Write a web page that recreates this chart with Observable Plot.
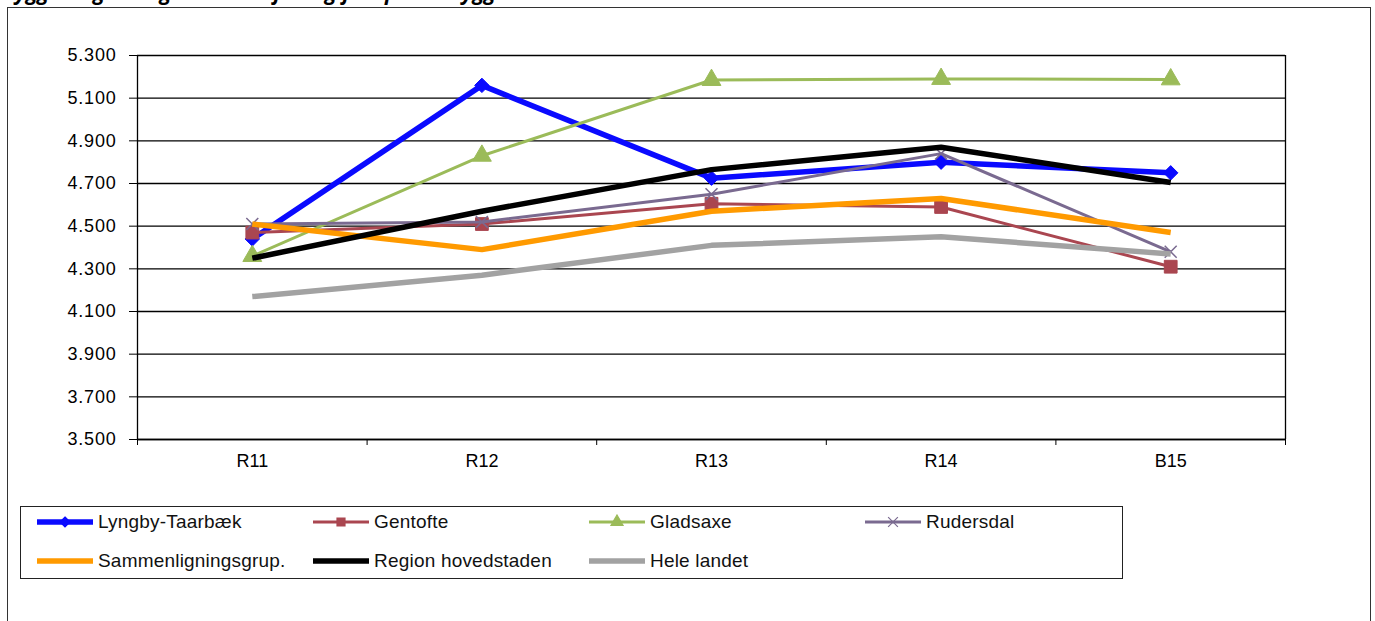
<!DOCTYPE html>
<html>
<head>
<meta charset="utf-8">
<script src="https://cdn.jsdelivr.net/npm/d3@7"></script>
<script src="https://cdn.jsdelivr.net/npm/@observablehq/plot@0.6"></script>
<style>
  body { margin: 0; background: #fff; }
  #wrap { position: relative; width: 1375px; height: 621px; overflow: hidden; background: #fff; }
  #title { position: absolute; left: 2px; top: -22px; font: italic bold 21px "Open Sans", "DejaVu Sans", sans-serif; color: #000; white-space: nowrap; }
  #frame { position: absolute; left: 7px; top: 7px; width: 1364px; height: 700px; border: 1.5px solid #333; box-sizing: border-box; }
  #chart { position: absolute; left: 0; top: 0; }
  #legend { position: absolute; left: 20px; top: 506px; width: 1103px; height: 73px; border: 1.5px solid #222; box-sizing: border-box; background: #fff; }
  .item { position: absolute; display: flex; align-items: center; height: 24px; font: 19px "Liberation Sans", Arial, sans-serif; color: #111; letter-spacing: 0.2px; }
  .item svg { display: block; margin-right: 4px; }
</style>
</head>
<body>
<div id="wrap">
  <div id="title">Byggeri og anlæg – nettodriftsudgifter pr. indbygger</div>
  <div id="frame"></div>
  <div id="chart"></div>
  <div id="legend"></div>
</div>
<script>
// ---- data ----
const categories = ["R11", "R12", "R13", "R14", "B15"];
const yTicks = [3500, 3700, 3900, 4100, 4300, 4500, 4700, 4900, 5100, 5300];

const lyngbyTaarbaek      = [4440, 5160, 4725, 4800, 4750];
const gentofte            = [4470, 4510, 4605, 4590, 4310];
const gladsaxe            = [4360, 4830, 5185, 5190, 5188];
const rudersdal           = [4510, 4520, 4650, 4840, 4380];
const sammenligningsgrup  = [4510, 4390, 4570, 4630, 4470];
const regionHovedstaden   = [4350, 4570, 4765, 4870, 4705];
const heleLandet          = [4170, 4270, 4410, 4450, 4370];

const seriesNames = ["Lyngby-Taarbæk", "Gentofte", "Gladsaxe", "Rudersdal", "Sammenligningsgrup.", "Region hovedstaden", "Hele landet"];
const seriesValues = [lyngbyTaarbaek, gentofte, gladsaxe, rudersdal, sammenligningsgrup, regionHovedstaden, heleLandet];

// ---- styles ----
const styles = [
  {color: "#0a0aff", width: 5.5, symbol: "diamond2", r: 6.5, fill: true},
  {color: "#aa4650", width: 3,   symbol: "square",   r: 7.2, fill: true},
  {color: "#9bbb59", width: 3,   symbol: "triangle", r: 7,   fill: true},
  {color: "#7a6a90", width: 3,   symbol: "times",    r: 5.5, fill: false},
  {color: "#ff9a00", width: 5.5, symbol: null},
  {color: "#000000", width: 5.5, symbol: null},
  {color: "#a2a2a2", width: 5.5, symbol: null}
];

const table = seriesNames.map((name, s) => seriesValues[s].map((v, i) => ({name, i, v})));

const fmt = d => d3.format(",")(d).replace(",", ".");
const bounds = d3.range(-0.5, categories.length, 1);

const marks = [
  Plot.gridY(yTicks, {stroke: "#000", strokeOpacity: 1, strokeWidth: 1.3}),
  Plot.ruleX([-0.5], {stroke: "#000", strokeWidth: 1.3}),
  Plot.ruleX([categories.length - 0.5], {stroke: "#000", strokeWidth: 1.3}),
  Plot.ruleY([yTicks[0]], {stroke: "#000", strokeWidth: 1.5}),
  Plot.axisY(yTicks, {tickSize: 8, tickPadding: 13, tickFormat: fmt, label: null, stroke: "#000"}),
  Plot.axisX(bounds, {tickSize: 6, tickFormat: () => "", label: null, stroke: "#000"}),
  Plot.axisX(d3.range(categories.length), {tickSize: 0, tickPadding: 15, tickFormat: i => categories[i], label: null})
];

table.forEach((data, s) => {
  const st = styles[s];
  marks.push(Plot.line(data, {x: "i", y: "v", stroke: st.color, strokeWidth: st.width, strokeLinejoin: "miter", strokeLinecap: "butt"}));
  if (st.symbol) {
    marks.push(Plot.dot(data, st.fill
      ? {x: "i", y: "v", symbol: () => st.symbol, r: st.r, fill: st.color, stroke: st.color, strokeWidth: 1}
      : {x: "i", y: "v", symbol: () => st.symbol, r: st.r, stroke: st.color, strokeWidth: 1.5}));
  }
});

const chart = Plot.plot({
  width: 1375,
  height: 480,
  marginLeft: 137,
  marginRight: 90,
  marginTop: 55,
  marginBottom: 41,
  x: {type: "linear", domain: [-0.5, categories.length - 0.5]},
  y: {domain: [yTicks[0], yTicks[yTicks.length - 1]]},
  style: {fontFamily: "'Liberation Sans', Arial, sans-serif", fontSize: "18px", color: "#000", background: "transparent", overflow: "visible"},
  marks
});
d3.select(chart).selectAll("g[aria-label='y-axis tick label'] text").style("letter-spacing", "0.8px");
document.getElementById("chart").appendChild(chart);

// ---- legend ----
const legend = d3.select("#legend");
seriesNames.forEach((name, s) => {
  const st = styles[s];
  const col = s % 4, row = Math.floor(s / 4);
  const item = legend.append("div").attr("class", "item")
    .style("left", (15 + col * 276) + "px")
    .style("top", (3 + row * 39) + "px");
  const svg = item.append("svg").attr("width", 58).attr("height", 16);
  svg.append("line").attr("x1", 1).attr("x2", 57).attr("y1", 8).attr("y2", 8)
    .attr("stroke", st.color).attr("stroke-width", st.width);
  if (st.symbol) {
    const symMap = {diamond2: d3.symbolDiamond2, square: d3.symbolSquare, triangle: d3.symbolTriangle, times: d3.symbolTimes};
    svg.append("path").attr("transform", "translate(29,8)")
      .attr("d", d3.symbol(symMap[st.symbol], Math.PI * 4.5 * 4.5)())
      .attr("fill", st.fill ? st.color : "none").attr("stroke", st.color).attr("stroke-width", 1.2);
  }
  item.append("span").text(name);
});
</script>
</body>
</html>
